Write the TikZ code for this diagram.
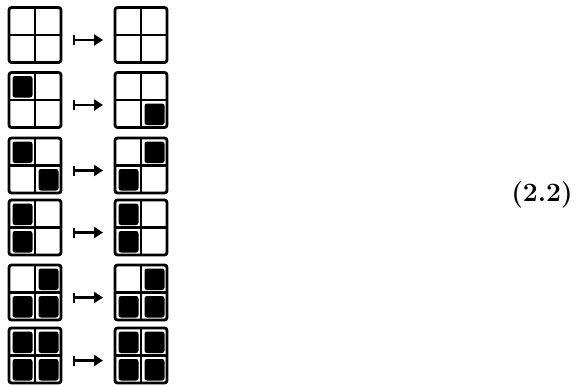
\documentclass[tikz,border=0pt]{standalone}
\usepackage{fontspec}
\usetikzlibrary{arrows.meta}
\begin{document}
\begin{tikzpicture}[x=1pt,y=-1pt,
  grid/.style={draw, line width=2.8pt, rounded corners=2.5pt, minimum width=52pt, minimum height=55pt, inner sep=0pt, outer sep=0pt},
  divider/.style={line width=2.4pt},
  cell/.style={fill=black, rounded corners=2.5pt},
  mapsto/.style={line width=2.4pt, {Bar[width=10pt,line width=2.4pt]}-{Triangle[length=9pt,width=11pt]}, shorten <=12pt, shorten >=12pt},
  eqlabel/.style={inner sep=0pt, font=\fontsize{26.5}{30}\selectfont\bfseries}]
\useasboundingbox (0,0) rectangle (580,384);
\newcommand\blk[3]{%
  \begin{scope}[shift={(#1.north west)}]
    \fill[cell] ({#2*26+3.5},{#3*27.5+3.5}) rectangle ({#2*26+23.5},{#3*27.5+25});
  \end{scope}}
\foreach \r/\yy in {1/35,2/100,3/165.5,4/227.5,5/292.5,6/355.5}{
  \node[grid] (L\r) at (35,\yy) {};
  \node[grid] (R\r) at (141,\yy) {};
  \draw[divider] (L\r.north) -- (L\r.south);
  \draw[divider] (L\r.west) -- (L\r.east);
  \draw[divider] (R\r.north) -- (R\r.south);
  \draw[divider] (R\r.west) -- (R\r.east);
  \coordinate (A\r) at ([yshift=-5pt]L\r.east);
  \coordinate (B\r) at ([yshift=-5pt]R\r.west);
  \draw[mapsto] (A\r) -- (B\r);
}
% row 2
\blk{L2}{0}{0} \blk{R2}{1}{1}
% row 3
\blk{L3}{0}{0} \blk{L3}{1}{1} \blk{R3}{1}{0} \blk{R3}{0}{1}
% row 4
\blk{L4}{0}{0} \blk{L4}{0}{1} \blk{R4}{0}{0} \blk{R4}{0}{1}
% row 5
\blk{L5}{1}{0} \blk{L5}{0}{1} \blk{L5}{1}{1} \blk{R5}{1}{0} \blk{R5}{0}{1} \blk{R5}{1}{1}
% row 6
\blk{L6}{0}{0} \blk{L6}{1}{0} \blk{L6}{0}{1} \blk{L6}{1}{1}
\blk{R6}{0}{0} \blk{R6}{1}{0} \blk{R6}{0}{1} \blk{R6}{1}{1}
\node[eqlabel] (eq) at (542,195) {(2.2)};
\end{tikzpicture}
\end{document}
